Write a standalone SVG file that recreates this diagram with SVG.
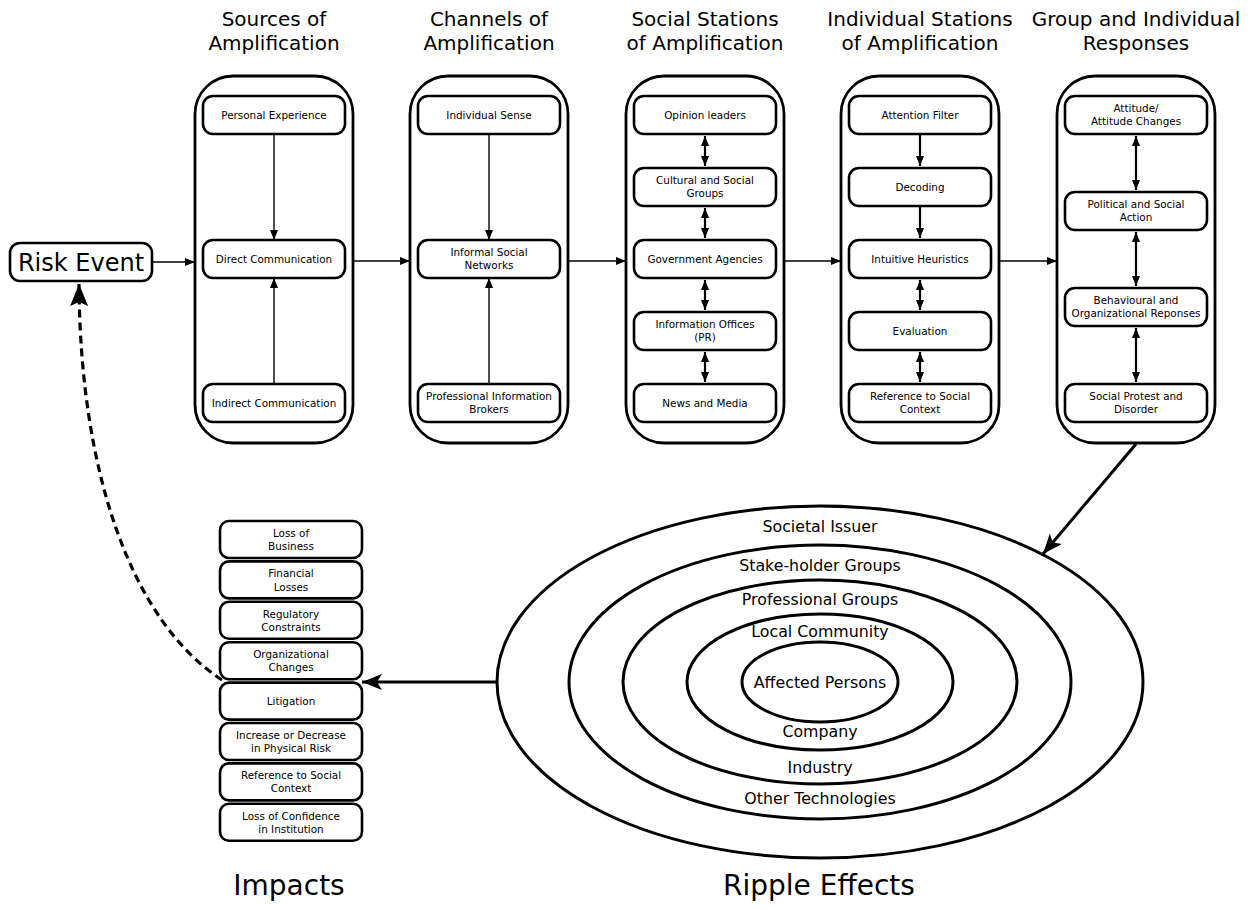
<svg xmlns="http://www.w3.org/2000/svg" width="1250" height="909" viewBox="0 0 1250 909">
<style>
.h{font-family:"DejaVu Sans","Liberation Sans",sans-serif;font-size:20px;fill:#000;text-anchor:middle}
.t{font-family:"DejaVu Sans","Liberation Sans",sans-serif;font-size:10.4px;fill:#000;text-anchor:middle}
.e{font-family:"DejaVu Sans","Liberation Sans",sans-serif;font-size:15.8px;fill:#000;text-anchor:middle}
.big{font-family:"DejaVu Sans","Liberation Sans",sans-serif;font-size:28px;fill:#000;text-anchor:middle}
.col{fill:#fff;stroke:#000;stroke-width:2.8}
.box{fill:#fff;stroke:#000;stroke-width:2.6}
.ell{fill:none;stroke:#000;stroke-width:3}
.thin{stroke:#000;stroke-width:1.4;fill:none;marker-end:url(#ah)}
.thick1{stroke:#000;stroke-width:2.2;fill:none;marker-end:url(#ah)}
.dbl{stroke:#000;stroke-width:2.2;fill:none;marker-start:url(#ah);marker-end:url(#ah)}
</style>
<defs>
<marker id="ah" markerUnits="userSpaceOnUse" markerWidth="10" markerHeight="8" refX="10" refY="4" orient="auto-start-reverse" viewBox="0 0 10 8"><path d="M0,0 L10,4 L0,8 z" fill="#000"/></marker>
<marker id="bh" markerUnits="userSpaceOnUse" markerWidth="20" markerHeight="16" refX="20" refY="8" orient="auto" viewBox="0 0 20 16"><path d="M0,0 L20,8 L0,16 L5,8 z" fill="#000"/></marker>
<marker id="dh" markerUnits="userSpaceOnUse" markerWidth="22" markerHeight="18" refX="22" refY="9" orient="auto" viewBox="0 0 22 18"><path d="M0,0 L22,9 L0,18 L4,9 z" fill="#000"/></marker>
</defs>
<rect width="1250" height="909" fill="#fff"/>

<g id="headings">
<text class="h" x="274" y="26">Sources of</text><text class="h" x="274" y="50">Amplification</text>
<text class="h" x="489" y="26">Channels of</text><text class="h" x="489" y="50">Amplification</text>
<text class="h" x="705" y="26">Social Stations</text><text class="h" x="705" y="50">of Amplification</text>
<text class="h" x="920" y="26">Individual Stations</text><text class="h" x="920" y="50">of Amplification</text>
<text class="h" x="1136" y="26">Group and Individual</text><text class="h" x="1136" y="50">Responses</text>
</g>

<g id="risk-event">
<rect class="box" x="10" y="243" width="142" height="38" rx="10"/>
<text x="81" y="270.5" font-family="DejaVu Sans, Liberation Sans, sans-serif" font-size="24" text-anchor="middle">Risk Event</text>
</g>

<g id="col-sources">
<rect class="col" x="195" y="76" width="158" height="367" rx="38"/>
<g id="n-personal"><rect class="box" x="203" y="96" width="142" height="38" rx="10"/><text class="t" x="274" y="118.5">Personal Experience</text></g>
<g id="n-direct"><rect class="box" x="203" y="240" width="142" height="38" rx="10"/><text class="t" x="274" y="262.5">Direct Communication</text></g>
<g id="n-indirect"><rect class="box" x="203" y="384" width="142" height="38" rx="10"/><text class="t" x="274" y="406.5">Indirect Communication</text></g>
</g>

<g id="col-channels">
<rect class="col" x="410" y="76" width="158" height="367" rx="38"/>
<g id="n-sense"><rect class="box" x="418" y="96" width="142" height="38" rx="10"/><text class="t" x="489" y="118.5">Individual Sense</text></g>
<g id="n-informal"><rect class="box" x="418" y="240" width="142" height="38" rx="10"/><text class="t" x="489" y="256">Informal Social</text><text class="t" x="489" y="269">Networks</text></g>
<g id="n-brokers"><rect class="box" x="418" y="384" width="142" height="38" rx="10"/><text class="t" x="489" y="400">Professional Information</text><text class="t" x="489" y="413">Brokers</text></g>
</g>

<g id="col-social">
<rect class="col" x="626" y="76" width="158" height="367" rx="38"/>
<g id="n-opinion"><rect class="box" x="634" y="96" width="142" height="38" rx="10"/><text class="t" x="705" y="118.5">Opinion leaders</text></g>
<g id="n-cultural"><rect class="box" x="634" y="168" width="142" height="38" rx="10"/><text class="t" x="705" y="184">Cultural and Social</text><text class="t" x="705" y="197">Groups</text></g>
<g id="n-gov"><rect class="box" x="634" y="240" width="142" height="38" rx="10"/><text class="t" x="705" y="262.5">Government Agencies</text></g>
<g id="n-info"><rect class="box" x="634" y="312" width="142" height="38" rx="10"/><text class="t" x="705" y="328">Information Offices</text><text class="t" x="705" y="341">(PR)</text></g>
<g id="n-news"><rect class="box" x="634" y="384" width="142" height="38" rx="10"/><text class="t" x="705" y="406.5">News and Media</text></g>
</g>

<g id="col-individual">
<rect class="col" x="841" y="76" width="158" height="367" rx="38"/>
<g id="n-attention"><rect class="box" x="849" y="96" width="142" height="38" rx="10"/><text class="t" x="920" y="118.5">Attention Filter</text></g>
<g id="n-decoding"><rect class="box" x="849" y="168" width="142" height="38" rx="10"/><text class="t" x="920" y="190.5">Decoding</text></g>
<g id="n-intuitive"><rect class="box" x="849" y="240" width="142" height="38" rx="10"/><text class="t" x="920" y="262.5">Intuitive Heuristics</text></g>
<g id="n-evaluation"><rect class="box" x="849" y="312" width="142" height="38" rx="10"/><text class="t" x="920" y="334.5">Evaluation</text></g>
<g id="n-reference"><rect class="box" x="849" y="384" width="142" height="38" rx="10"/><text class="t" x="920" y="400">Reference to Social</text><text class="t" x="920" y="413">Context</text></g>
</g>

<g id="col-responses">
<rect class="col" x="1057" y="76" width="158" height="367" rx="38"/>
<g id="n-attitude"><rect class="box" x="1065" y="96" width="142" height="38" rx="10"/><text class="t" x="1136" y="112">Attitude/</text><text class="t" x="1136" y="125">Attitude Changes</text></g>
<g id="n-political"><rect class="box" x="1065" y="192" width="142" height="38" rx="10"/><text class="t" x="1136" y="208">Political and Social</text><text class="t" x="1136" y="221">Action</text></g>
<g id="n-behavioural"><rect class="box" x="1065" y="288" width="142" height="38" rx="10"/><text class="t" x="1136" y="304">Behavioural and</text><text class="t" x="1136" y="317">Organizational Reponses</text></g>
<g id="n-protest"><rect class="box" x="1065" y="384" width="142" height="38" rx="10"/><text class="t" x="1136" y="400">Social Protest and</text><text class="t" x="1136" y="413">Disorder</text></g>
</g>

<g id="ripple-effects">
<ellipse class="ell" cx="820" cy="682" rx="323" ry="176"/>
<ellipse class="ell" cx="820" cy="682" rx="251" ry="137"/>
<ellipse class="ell" cx="820" cy="682" rx="197" ry="102"/>
<ellipse class="ell" cx="820" cy="682" rx="133" ry="68"/>
<ellipse class="ell" cx="820" cy="682" rx="78" ry="40"/>
<text class="e" x="820" y="532">Societal Issuer</text>
<text class="e" x="820" y="571">Stake-holder Groups</text>
<text class="e" x="820" y="605">Professional Groups</text>
<text class="e" x="820" y="637">Local Community</text>
<text class="e" x="820" y="688">Affected Persons</text>
<text class="e" x="820" y="737">Company</text>
<text class="e" x="820" y="773">Industry</text>
<text class="e" x="820" y="804">Other Technologies</text>
</g>

<g id="impacts">
<g><rect class="box" x="220" y="521" width="142" height="37" rx="9"/><text class="t" x="291" y="537">Loss of</text><text class="t" x="291" y="550">Business</text></g>
<g><rect class="box" x="220" y="561.4" width="142" height="37" rx="9"/><text class="t" x="291" y="577.4">Financial</text><text class="t" x="291" y="591.4">Losses</text></g>
<g><rect class="box" x="220" y="601.8" width="142" height="37" rx="9"/><text class="t" x="291" y="617.8">Regulatory</text><text class="t" x="291" y="630.8">Constraints</text></g>
<g><rect class="box" x="220" y="642.2" width="142" height="37" rx="9"/><text class="t" x="291" y="658.2">Organizational</text><text class="t" x="291" y="671.2">Changes</text></g>
<g><rect class="box" x="220" y="682.6" width="142" height="37" rx="9"/><text class="t" x="291" y="704.6">Litigation</text></g>
<g><rect class="box" x="220" y="723" width="142" height="37" rx="9"/><text class="t" x="291" y="739">Increase or Decrease</text><text class="t" x="291" y="752">in Physical Risk</text></g>
<g><rect class="box" x="220" y="763.4" width="142" height="37" rx="9"/><text class="t" x="291" y="779.4">Reference to Social</text><text class="t" x="291" y="792.4">Context</text></g>
<g><rect class="box" x="220" y="803.8" width="142" height="37" rx="9"/><text class="t" x="291" y="819.8">Loss of Confidence</text><text class="t" x="291" y="832.8">in Institution</text></g>
</g>

<g id="labels">
<text class="big" x="289" y="895">Impacts</text>
<text class="big" x="819" y="895">Ripple Effects</text>
</g>

<g id="connectors">
<line class="thin" x1="152" y1="262" x2="195" y2="262"/>
<line class="thin" x1="353" y1="261" x2="410" y2="261"/>
<line class="thin" x1="568" y1="261" x2="626" y2="261"/>
<line class="thin" x1="784" y1="261" x2="841" y2="261"/>
<line class="thin" x1="999" y1="261" x2="1057" y2="261"/>
<line class="thin" x1="274" y1="134" x2="274" y2="240"/>
<line class="thin" x1="274" y1="384" x2="274" y2="278"/>
<line class="thin" x1="489" y1="134" x2="489" y2="240"/>
<line class="thin" x1="489" y1="384" x2="489" y2="278"/>
<line class="dbl" x1="705" y1="136" x2="705" y2="166"/>
<line class="dbl" x1="705" y1="208" x2="705" y2="238"/>
<line class="dbl" x1="705" y1="280" x2="705" y2="310"/>
<line class="dbl" x1="705" y1="352" x2="705" y2="382"/>
<line class="thick1" x1="920" y1="134" x2="920" y2="166"/>
<line class="thick1" x1="920" y1="206" x2="920" y2="238"/>
<line class="dbl" x1="920" y1="280" x2="920" y2="310"/>
<line class="dbl" x1="920" y1="352" x2="920" y2="382"/>
<line class="dbl" x1="1136" y1="136" x2="1136" y2="190"/>
<line class="dbl" x1="1136" y1="232" x2="1136" y2="286"/>
<line class="dbl" x1="1136" y1="328" x2="1136" y2="382"/>
<line stroke="#000" stroke-width="3" marker-end="url(#bh)" x1="1136" y1="444" x2="1043" y2="554"/>
<line stroke="#000" stroke-width="3" marker-end="url(#bh)" x1="497" y1="682" x2="362" y2="682"/>
<path d="M222,680 C130,620 80,470 79,284" fill="none" stroke="#000" stroke-width="3.2" stroke-dasharray="8,5" marker-end="url(#dh)"/>
</g>
</svg>
